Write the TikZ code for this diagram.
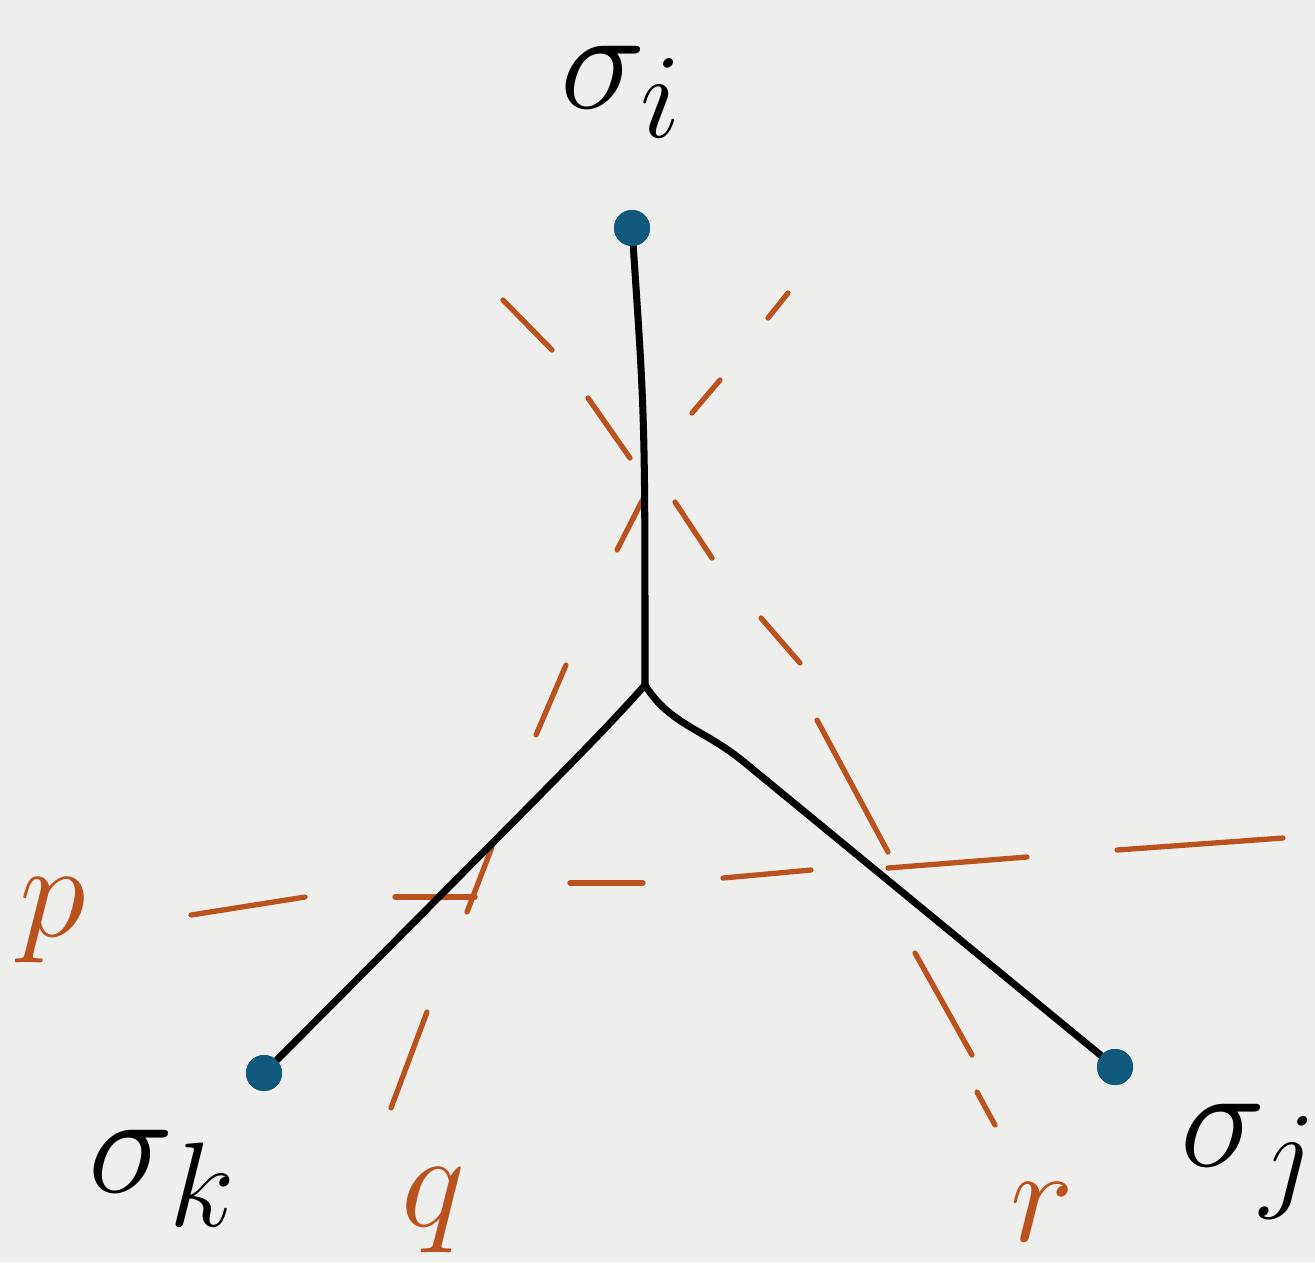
\documentclass[tikz,border=0pt]{standalone}

\definecolor{paper}{RGB}{238,238,237}
\definecolor{inkcut}{RGB}{186,82,30}
\definecolor{inksite}{RGB}{16,88,124}

% large hand-sized math symbols
\newcommand{\vsym}[1]{\scalebox{1.65}{\Huge$#1$}}
\newcommand{\csym}[1]{\scalebox{1.55}{\Huge$#1$}}

\begin{document}
\begin{tikzpicture}[
  x=0.01cm, y=-0.01cm,
  site/.style={circle, fill=inksite, minimum size=0.36cm, inner sep=0pt},
  bond/.style={draw, line width=2pt, line cap=round, line join=round},
  cut/.style={draw=inkcut, line width=1.5pt, line cap=round},
  vlabel/.style={inner sep=0pt},
  clabel/.style={text=inkcut, inner sep=0pt},
]
  % ===== Paper =====
  \fill[paper] (0,0) rectangle (1315,1262);
  \useasboundingbox (0,0) rectangle (1315,1262);

  % ===== Sites and junction =====
  \node[site] (si) at (632,228) {};
  \node[site] (sj) at (1115,1067) {};
  \node[site] (sk) at (264,1073) {};
  \coordinate (mid) at (645,685);
  \coordinate (bend) at (744,762);

  \node[vlabel] (li) at (622,92) {\vsym{\sigma_i}};
  \node[vlabel] (lj) at (1250,1162) {\vsym{\sigma_j}};
  \node[vlabel] (lk) at (163,1178) {\vsym{\sigma_k}};

  % ===== Dashed cuts p, q, r =====
  \foreach \a/\b in {{191,915}/{305,897}, {395,897}/{475,897}, {570,883}/{643,883},
                     {723,878}/{811,870}, {888,868}/{1027,857}, {1117,850}/{1283,838}}
    \draw[cut] (\a) -- (\b);
  \foreach \a/\b in {{391,1108}/{427,1012}, {467,912}/{492,847}, {536,735}/{566,665},
                     {617,550}/{645,495}, {692,413}/{720,380}, {768,318}/{788,293}}
    \draw[cut] (\a) -- (\b);
  \foreach \a/\b in {{503,300}/{552,350}, {588,398}/{630,458}, {675,502}/{712,558},
                     {761,618}/{800,663}, {817,720}/{888,852}, {915,953}/{972,1055},
                     {977,1092}/{995,1125}}
    \draw[cut] (\a) -- (\b);

  \node[clabel] (lp) at (53,920) {\csym{p}};
  \node[clabel] (lq) at (433,1210) {\csym{q}};
  \node[clabel] (lr) at (1042,1212) {\csym{r}};

  % ===== Tree edges =====
  \draw[bond] (si) .. controls (645,420) .. (mid);
  \draw[bond] (mid) .. controls (600,735) .. (sk);
  \draw[bond] (mid) .. controls (670,725) and (704,729) .. (bend) -- (sj);

  % dots on top of the edges
  \foreach \s in {si,sj,sk}
    \fill[inksite] (\s) circle (0.18cm);

\end{tikzpicture}
\end{document}
